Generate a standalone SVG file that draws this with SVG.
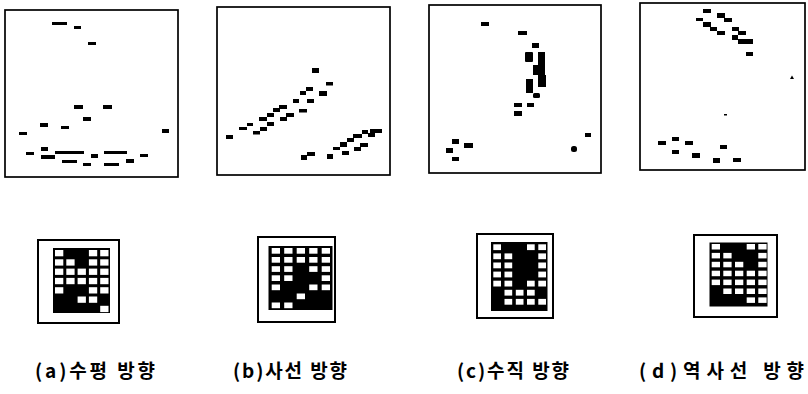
<svg xmlns="http://www.w3.org/2000/svg" width="808" height="394" viewBox="0 0 808 394">
<style>
.box{fill:#fff;stroke:#000;stroke-width:1.7}
.fr{fill:#fff;stroke:#000;stroke-width:2}
.d{fill:#000}
.blk{fill:#000}
.w{fill:#fff}
.lbl{font-family:"Noto Sans CJK KR","Noto Sans",sans-serif;font-size:19px;font-weight:bold;fill:#000}
</style>
<rect width="808" height="394" fill="#fff"/>

<g id="panel-a">
<rect class="box" x="5" y="10" width="173" height="167"/>
<g class="d">
<rect x="52" y="22" width="15" height="3"/>
<rect x="74" y="26" width="7" height="3"/>
<rect x="88" y="42" width="8" height="3"/>
<rect x="74" y="105" width="9" height="4"/>
<rect x="103" y="105" width="9" height="4"/>
<rect x="83" y="117" width="8" height="4"/>
<rect x="40" y="123" width="8" height="4"/>
<rect x="61" y="126" width="8" height="3"/>
<rect x="19" y="132" width="8" height="3"/>
<rect x="162" y="129" width="7" height="4"/>
<rect x="41" y="147" width="7" height="4"/>
<rect x="26" y="152" width="8" height="3"/>
<rect x="41" y="155" width="14" height="4"/>
<rect x="55" y="151" width="29" height="3"/>
<rect x="62" y="160" width="15" height="3"/>
<rect x="91" y="154" width="7" height="4"/>
<rect x="104" y="151" width="23" height="3"/>
<rect x="83" y="163" width="8" height="3"/>
<rect x="104" y="163" width="15" height="3"/>
<rect x="126" y="159" width="8" height="4"/>
<rect x="140" y="154" width="8" height="3"/>
</g>
<rect class="fr" x="38" y="240" width="81" height="83"/>
<rect class="blk" x="53" y="248" width="57" height="65"/>
<g class="w">
<rect x="55" y="250" width="8.3" height="6.3"/><rect x="88.9" y="250" width="8.3" height="6.3"/><rect x="100.2" y="250" width="8.3" height="6.3"/>
<rect x="55" y="259.3" width="8.3" height="6.3"/><rect x="66.3" y="259.3" width="8.3" height="6.3"/><rect x="88.9" y="259.3" width="8.3" height="6.3"/><rect x="100.2" y="259.3" width="8.3" height="6.3"/>
<rect x="55" y="268.6" width="8.3" height="6.3"/><rect x="66.3" y="268.6" width="8.3" height="6.3"/><rect x="77.6" y="268.6" width="8.3" height="6.3"/><rect x="88.9" y="268.6" width="8.3" height="6.3"/><rect x="100.2" y="268.6" width="8.3" height="6.3"/>
<rect x="55" y="277.9" width="8.3" height="6.3"/><rect x="66.3" y="277.9" width="8.3" height="6.3"/><rect x="77.6" y="277.9" width="8.3" height="6.3"/><rect x="88.9" y="277.9" width="8.3" height="6.3"/><rect x="100.2" y="277.9" width="8.3" height="6.3"/>
<rect x="55" y="287.2" width="8.3" height="6.3"/><rect x="88.9" y="287.2" width="8.3" height="6.3"/><rect x="100.2" y="287.2" width="8.3" height="6.3"/>
<rect x="77.6" y="296.5" width="8.3" height="6.3"/><rect x="88.9" y="296.5" width="8.3" height="6.3"/>
<rect x="100.2" y="305.8" width="8.3" height="6.3"/>
</g>
<text class="lbl" x="35" y="378" textLength="120" lengthAdjust="spacing">(a)수평 방향</text>
</g>

<g id="panel-b">
<rect class="box" x="217" y="7" width="173" height="168"/>
<g class="d">
<rect x="312" y="68" width="7" height="5"/>
<rect x="326" y="82" width="7" height="3.5"/>
<rect x="306" y="87" width="7" height="4"/>
<rect x="300" y="91" width="6" height="4"/>
<rect x="319" y="91" width="8" height="5"/>
<rect x="293" y="99" width="6" height="4"/>
<rect x="307" y="99" width="7" height="4"/>
<rect x="279" y="105" width="8" height="4"/>
<rect x="273" y="108" width="7" height="4"/>
<rect x="299" y="109" width="8" height="3.5"/>
<rect x="267" y="113" width="7" height="4"/>
<rect x="286" y="113" width="8" height="4"/>
<rect x="259" y="117" width="8" height="4"/>
<rect x="280" y="117" width="7" height="4"/>
<rect x="267" y="122" width="7" height="4"/>
<rect x="247" y="123" width="6" height="3"/>
<rect x="239" y="127" width="8" height="3"/>
<rect x="260" y="127" width="7" height="4"/>
<rect x="253" y="131" width="7" height="3.5"/>
<rect x="226" y="135" width="7" height="4"/>
<rect x="370" y="129" width="12" height="4"/>
<rect x="362" y="130" width="6" height="4"/>
<rect x="353" y="134" width="9" height="4"/>
<rect x="368" y="133" width="7" height="4"/>
<rect x="347" y="138" width="7" height="4"/>
<rect x="340" y="142" width="7" height="5"/>
<rect x="333" y="147" width="7" height="3"/>
<rect x="360" y="143" width="8" height="4"/>
<rect x="354" y="147" width="7" height="4"/>
<rect x="342" y="151" width="7" height="4"/>
<rect x="327" y="154" width="6" height="5"/>
<rect x="307" y="152" width="8" height="4"/>
<rect x="301" y="155" width="6" height="5"/>
</g>
<rect class="fr" x="258" y="237" width="77" height="85"/>
<rect class="blk" x="268.5" y="246" width="64" height="64"/>
<g class="w">
<rect x="271.7" y="248" width="8.3" height="5.7"/><rect x="284.2" y="248" width="8.3" height="5.7"/><rect x="296.7" y="248" width="8.3" height="5.7"/><rect x="309.2" y="248" width="8.3" height="5.7"/><rect x="321.7" y="248" width="8.3" height="5.7"/>
<rect x="271.7" y="257" width="8.3" height="5.7"/><rect x="284.2" y="257" width="8.3" height="5.7"/><rect x="296.7" y="257" width="8.3" height="5.7"/><rect x="309.2" y="257" width="8.3" height="5.7"/><rect x="321.7" y="257" width="8.3" height="5.7"/>
<rect x="271.7" y="266.2" width="8.3" height="5.7"/><rect x="284.2" y="266.2" width="8.3" height="5.7"/><rect x="309.2" y="266.2" width="8.3" height="5.7"/><rect x="321.7" y="266.2" width="8.3" height="5.7"/>
<rect x="271.7" y="275.3" width="8.3" height="5.7"/><rect x="284.2" y="275.3" width="8.3" height="5.7"/><rect x="321.7" y="275.3" width="8.3" height="5.7"/>
<rect x="271.7" y="284.5" width="8.3" height="5.7"/><rect x="309.2" y="284.5" width="8.3" height="5.7"/><rect x="321.7" y="284.5" width="8.3" height="5.7"/>
<rect x="296.7" y="293.5" width="8.3" height="5.7"/>
<rect x="271.7" y="302.5" width="8.3" height="5.7"/><rect x="284.2" y="302.5" width="8.3" height="5.7"/>
</g>
<text class="lbl" x="233" y="378" textLength="114" lengthAdjust="spacing">(b)사선 방향</text>
</g>

<g id="panel-c">
<rect class="box" x="429" y="5" width="172" height="168"/>
<g class="d">
<rect x="481" y="22" width="8" height="4"/>
<rect x="518" y="31" width="9" height="4"/>
<rect x="532" y="43" width="7" height="5"/>
<rect x="525" y="52" width="8" height="10" rx="1"/>
<rect x="538" y="52" width="7" height="15"/>
<rect x="533" y="65" width="12" height="10"/>
<rect x="538" y="75" width="8" height="12"/>
<rect x="526" y="79" width="7" height="14"/>
<rect x="533" y="93" width="7" height="5" rx="1.5"/>
<rect x="514" y="103" width="8" height="4"/>
<rect x="527" y="103" width="7" height="4"/>
<rect x="514" y="111" width="8" height="5"/>
<rect x="585" y="133" width="6" height="4"/>
<rect x="571" y="146" width="6" height="6" rx="2.5"/>
<rect x="452" y="139" width="7" height="5"/>
<rect x="464" y="143" width="9" height="5"/>
<rect x="446" y="148" width="7" height="5"/>
<rect x="452" y="157" width="7" height="4"/>
</g>
<rect class="fr" x="477" y="234" width="76" height="84"/>
<rect class="blk" x="491" y="242" width="56.5" height="69"/>
<g class="w">
<rect x="493.3" y="244.3" width="7.7" height="5.8"/><rect x="527" y="244.3" width="7.7" height="5.8"/><rect x="538.3" y="244.3" width="7.7" height="5.8"/>
<rect x="493.3" y="253.4" width="7.7" height="5.8"/><rect x="504.5" y="253.4" width="7.7" height="5.8"/><rect x="538.3" y="253.4" width="7.7" height="5.8"/>
<rect x="493.3" y="262.5" width="7.7" height="5.8"/><rect x="504.5" y="262.5" width="7.7" height="5.8"/><rect x="538.3" y="262.5" width="7.7" height="5.8"/>
<rect x="493.3" y="271.6" width="7.7" height="5.8"/><rect x="504.5" y="271.6" width="7.7" height="5.8"/><rect x="538.3" y="271.6" width="7.7" height="5.8"/>
<rect x="493.3" y="280.7" width="7.7" height="5.8"/><rect x="504.5" y="280.7" width="7.7" height="5.8"/><rect x="527" y="280.7" width="7.7" height="5.8"/><rect x="538.3" y="280.7" width="7.7" height="5.8"/>
<rect x="504.5" y="289.8" width="7.7" height="5.8"/><rect x="515.8" y="289.8" width="7.7" height="5.8"/><rect x="527" y="289.8" width="7.7" height="5.8"/>
<rect x="504.5" y="298.9" width="7.7" height="5.8"/><rect x="515.8" y="298.9" width="7.7" height="5.8"/><rect x="527" y="298.9" width="7.7" height="5.8"/><rect x="538.3" y="298.9" width="7.7" height="5.8"/>
</g>
<text class="lbl" x="457" y="378" textLength="112" lengthAdjust="spacing">(c)수직 방향</text>
</g>

<g id="panel-d">
<rect class="box" x="640" y="3" width="165" height="167"/>
<g class="d">
<rect x="703" y="9" width="8" height="4"/>
<rect x="717" y="13" width="8" height="5"/>
<rect x="724" y="18" width="8" height="4"/>
<rect x="696" y="18" width="7" height="3"/>
<rect x="703" y="22" width="8" height="5"/>
<rect x="710" y="27" width="7" height="4"/>
<rect x="717" y="31" width="8" height="4"/>
<rect x="732" y="27" width="7" height="4"/>
<rect x="738" y="31" width="8" height="4"/>
<rect x="732" y="35" width="6" height="5"/>
<rect x="738" y="39" width="15" height="5"/>
<rect x="746" y="52" width="7" height="4"/>
<polygon points="790,79 792,75.5 794,79"/>
<rect x="724" y="114" width="3" height="1.5"/>
<rect x="658" y="141" width="8" height="4"/>
<rect x="672" y="137" width="7" height="4"/>
<rect x="685" y="141" width="8" height="4"/>
<rect x="672" y="150" width="7" height="4"/>
<rect x="720" y="145" width="7" height="4"/>
<rect x="692" y="153" width="8" height="5"/>
<rect x="713" y="158" width="7" height="5"/>
<rect x="733" y="158" width="8" height="4"/>
</g>
<rect class="fr" x="694" y="235" width="83" height="82"/>
<rect class="blk" x="709.5" y="242.5" width="58" height="64"/>
<g class="w">
<rect x="711.7" y="244" width="8.3" height="5.5"/><rect x="746.7" y="244" width="8.3" height="5.5"/><rect x="758.3" y="244" width="8.3" height="5.5"/>
<rect x="711.7" y="252.9" width="8.3" height="5.5"/><rect x="723.3" y="252.9" width="8.3" height="5.5"/><rect x="758.3" y="252.9" width="8.3" height="5.5"/>
<rect x="711.7" y="261.8" width="8.3" height="5.5"/><rect x="723.3" y="261.8" width="8.3" height="5.5"/><rect x="735" y="261.8" width="8.3" height="5.5"/><rect x="758.3" y="261.8" width="8.3" height="5.5"/>
<rect x="711.7" y="270.7" width="8.3" height="5.5"/><rect x="723.3" y="270.7" width="8.3" height="5.5"/><rect x="735" y="270.7" width="8.3" height="5.5"/><rect x="746.7" y="270.7" width="8.3" height="5.5"/><rect x="758.3" y="270.7" width="8.3" height="5.5"/>
<rect x="711.7" y="279.6" width="8.3" height="5.5"/><rect x="723.3" y="279.6" width="8.3" height="5.5"/><rect x="735" y="279.6" width="8.3" height="5.5"/><rect x="746.7" y="279.6" width="8.3" height="5.5"/><rect x="758.3" y="279.6" width="8.3" height="5.5"/>
<rect x="723.3" y="288.5" width="8.3" height="5.5"/><rect x="735" y="288.5" width="8.3" height="5.5"/><rect x="746.7" y="288.5" width="8.3" height="5.5"/><rect x="758.3" y="288.5" width="8.3" height="5.5"/>
<rect x="746.7" y="297.4" width="8.3" height="5.5"/><rect x="758.3" y="297.4" width="8.3" height="5.5"/>
</g>
<text class="lbl" x="639" y="378" textLength="165" lengthAdjust="spacing">(d)역사선 방향</text>
</g>
</svg>
